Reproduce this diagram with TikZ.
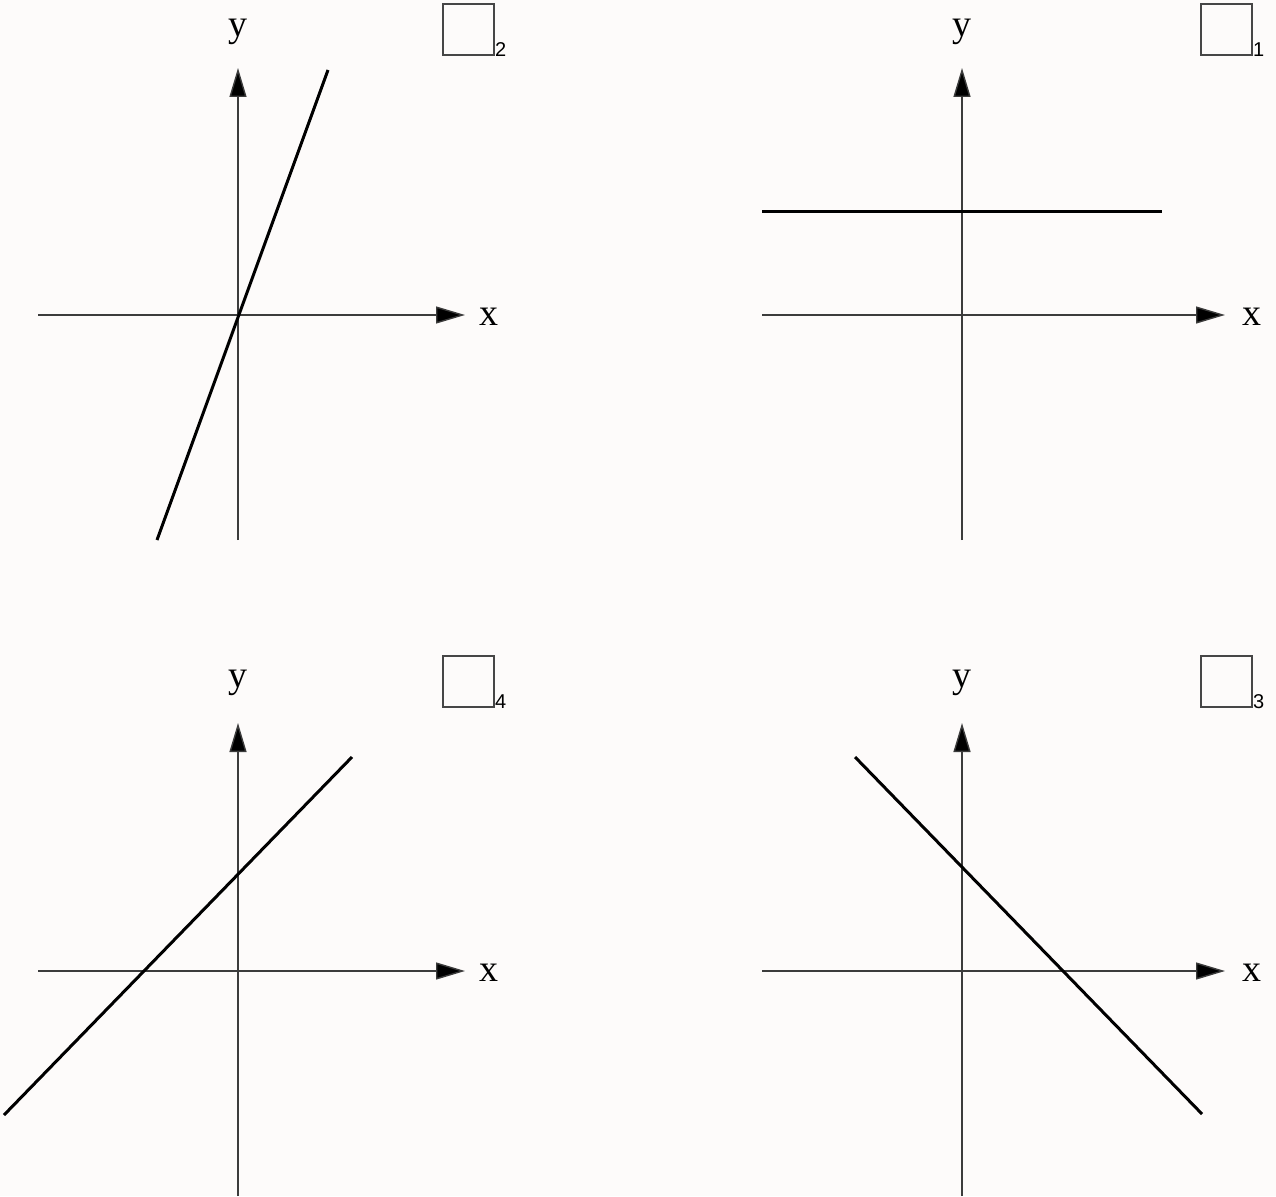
\documentclass[tikz,border=0pt]{standalone}
\usepackage{fontspec}
\setmainfont{Liberation Serif}
\newfontfamily\subfont{Liberation Sans}
\usetikzlibrary{arrows.meta}
\definecolor{bg}{RGB}{253,251,250}
\definecolor{axisgray}{RGB}{60,60,60}
\definecolor{boxgray}{RGB}{70,70,70}
\tikzset{
  axis/.style={draw=axisgray, line width=1.4pt, -{Triangle[length=29pt,width=17pt,fill=black]}},
  graphline/.style={draw=black, line width=3pt},
  lbl/.style={font=\fontsize{38}{42}\selectfont, inner sep=0pt},
  ansbox/.style={draw=boxgray, line width=2pt, minimum size=51pt, inner sep=0pt},
  sub/.style={font=\subfont\fontsize{20}{22}\selectfont, inner sep=0pt, anchor=south west}
}
\begin{document}
\begin{tikzpicture}[x=1pt,y=-1pt]
\fill[bg] (0,0) rectangle (1276,1196);
\useasboundingbox (0,0) rectangle (1276,1196);
% ---------- panel 2 (top-left)
\coordinate (A-l) at (38,315);  \coordinate (A-r) at (465,315);
\coordinate (A-b) at (238,540); \coordinate (A-t) at (238,68);
\draw[axis] (A-l) -- (A-r);
\draw[axis] (A-b) -- (A-t);
\node[lbl] (A-x) at (489,317) {x};
\node[lbl] (A-y) at (238,32) {y};
\coordinate (A-p) at (157,540); \coordinate (A-q) at (328,70);
\draw[graphline] (A-p) -- (A-q);
\node[ansbox] (A-box) at (468,30) {};
\node[sub] (A-n) at (495,57) {2};
% ---------- panel 1 (top-right)
\coordinate (B-l) at (762,315);  \coordinate (B-r) at (1225,315);
\coordinate (B-b) at (962,540); \coordinate (B-t) at (962,68);
\draw[axis] (B-l) -- (B-r);
\draw[axis] (B-b) -- (B-t);
\node[lbl] (B-x) at (1252,317) {x};
\node[lbl] (B-y) at (962,32) {y};
\coordinate (B-p) at (762,211); \coordinate (B-q) at (1162,211);
\draw[graphline] (B-p) -- (B-q);
\node[ansbox] (B-box) at (1226,30) {};
\node[sub] (B-n) at (1253,57) {1};
% ---------- panel 4 (bottom-left)
\coordinate (C-l) at (38,971);  \coordinate (C-r) at (465,971);
\coordinate (C-b) at (238,1196); \coordinate (C-t) at (238,723);
\draw[axis] (C-l) -- (C-r);
\draw[axis] (C-b) -- (C-t);
\node[lbl] (C-x) at (489,973) {x};
\node[lbl] (C-y) at (238,683) {y};
\coordinate (C-p) at (4,1115); \coordinate (C-q) at (352,757);
\draw[graphline] (C-p) -- (C-q);
\node[ansbox] (C-box) at (468,681) {};
\node[sub] (C-n) at (495,709) {4};
% ---------- panel 3 (bottom-right)
\coordinate (D-l) at (762,971);  \coordinate (D-r) at (1225,971);
\coordinate (D-b) at (962,1196); \coordinate (D-t) at (962,723);
\draw[axis] (D-l) -- (D-r);
\draw[axis] (D-b) -- (D-t);
\node[lbl] (D-x) at (1252,973) {x};
\node[lbl] (D-y) at (962,683) {y};
\coordinate (D-p) at (855,757); \coordinate (D-q) at (1202,1114);
\draw[graphline] (D-p) -- (D-q);
\node[ansbox] (D-box) at (1226,681) {};
\node[sub] (D-n) at (1253,709) {3};
\end{tikzpicture}
\end{document}
